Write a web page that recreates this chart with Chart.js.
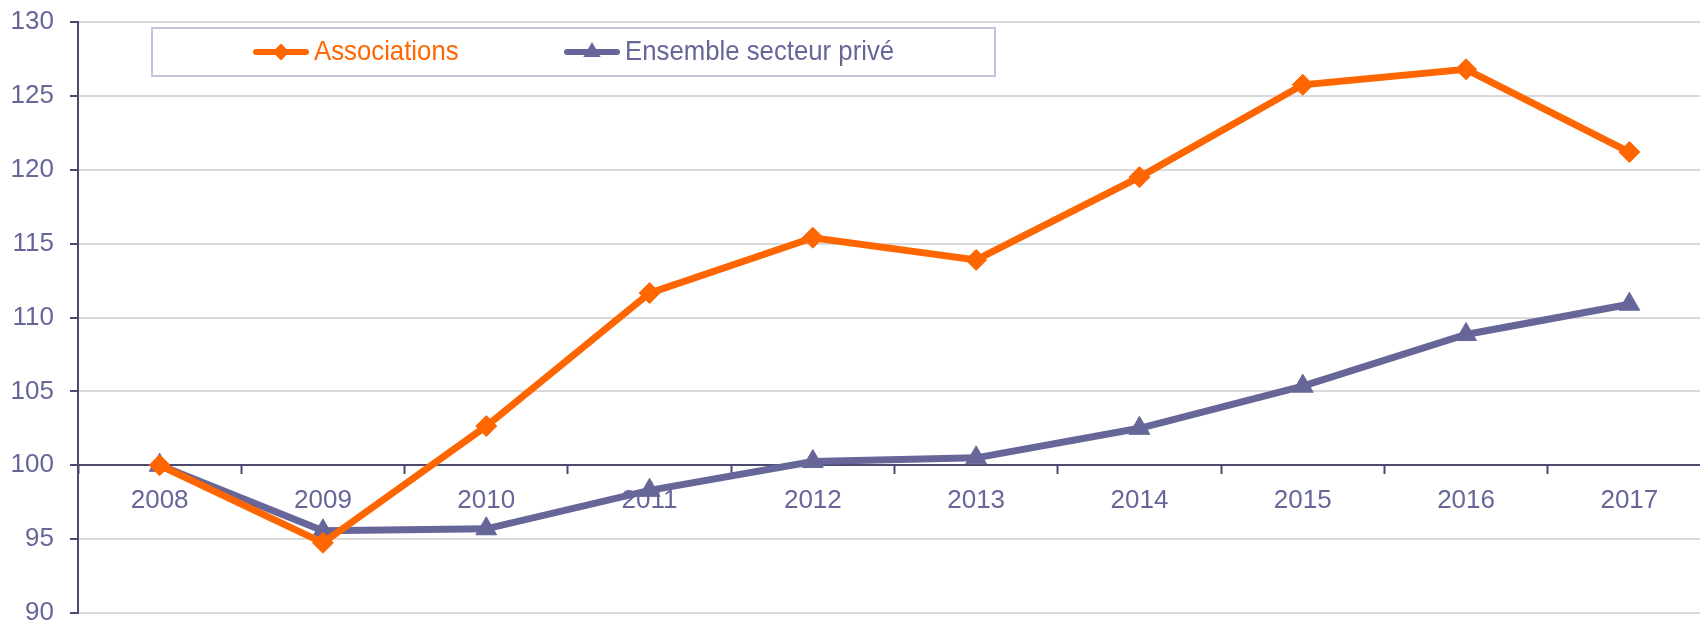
<!DOCTYPE html>
<html>
<head>
<meta charset="utf-8">
<script src="https://cdn.jsdelivr.net/npm/chart.js@4/dist/chart.umd.min.js"></script>
<style>
  html, body { margin: 0; padding: 0; background: #fff; overflow: hidden; }
  #chart_salaires { display: block; max-width: none !important; }
</style>
</head>
<body>
<canvas id="chart_salaires" width="1711" height="624"></canvas>
<script>
var years = ['2008', '2009', '2010', '2011', '2012', '2013', '2014', '2015', '2016', '2017'];
var associations = [100, 94.75, 102.65, 111.65, 115.4, 113.9, 119.5, 125.75, 126.8, 121.2];
var ensemblePrive = [100, 95.56, 95.7, 98.3, 100.25, 100.5, 102.5, 105.35, 108.85, 110.9];
var yMin = 90, yMax = 130, yStep = 5;

var ORANGE = '#ff6600';
var PURPLE = '#666699';
var AXIS = '#4a4a6e';
var FONT = '"Liberation Sans", Arial, sans-serif';

var chart_salaires = new Chart(document.getElementById('chart_salaires'), {
    type: 'line',
    data: {
        labels: years,
        datasets: [
            {
                label: 'Associations',
                data: associations,
                borderColor: ORANGE,
                backgroundColor: ORANGE,
                borderWidth: 7,
                pointStyle: 'rectRot',
                pointRadius: 10.5,
                pointBorderWidth: 1,
                pointBackgroundColor: ORANGE,
                pointBorderColor: ORANGE,
                legendMarkerRadius: 8.5
            },
            {
                label: 'Ensemble secteur privé',
                data: ensemblePrive,
                borderColor: PURPLE,
                backgroundColor: PURPLE,
                borderWidth: 7,
                pointStyle: 'triangle',
                pointRadius: 12,
                pointBorderWidth: 1,
                pointBackgroundColor: PURPLE,
                pointBorderColor: PURPLE,
                legendMarkerRadius: 10
            }
        ]
    },
    options: {
        animation: false,
        responsive: false,
        layout: {
            autoPadding: false,
            padding: { left: 0, right: 0, top: 22, bottom: 11 }
        },
        plugins: {
            legend: { display: false },
            tooltip: { enabled: false }
        },
        scales: {
            x: {
                type: 'category',
                position: { y: 100 },
                offset: true,
                grid: {
                    offset: true,
                    drawOnChartArea: false,
                    drawTicks: true,
                    tickLength: 8,
                    tickColor: AXIS,
                    tickWidth: 2
                },
                border: { color: AXIS, width: 2 },
                ticks: {
                    color: PURPLE,
                    font: { family: FONT, size: 26 },
                    padding: 12,
                    maxRotation: 0,
                    autoSkip: false
                }
            },
            y: {
                type: 'linear',
                position: 'left',
                min: yMin,
                max: yMax,
                grid: {
                    color: '#dadada',
                    lineWidth: 2,
                    drawTicks: true,
                    tickLength: 8,
                    tickColor: AXIS,
                    tickWidth: 2
                },
                border: { color: AXIS, width: 2 },
                ticks: {
                    stepSize: yStep,
                    color: PURPLE,
                    font: { family: FONT, size: 26 },
                    padding: 16
                },
                afterFit: function (scale) {
                    scale.width = 78;
                    scale.paddingTop = 0;
                    scale.paddingBottom = 0;
                }
            }
        }
    },
    plugins: [{
        id: 'boxedLegend',
        afterDraw: function (chart) {
            var ctx = chart.ctx;
            var sets = chart.data.datasets;
            var box = { left: 152, top: 28, right: 995, bottom: 76 };
            var itemX = [253, 564];
            var midY = 52;
            var squeeze = 0.92;   // legend text is a bit condensed in the original
            ctx.save();
            ctx.fillStyle = '#ffffff';
            ctx.fillRect(box.left, box.top, box.right - box.left, box.bottom - box.top);
            ctx.strokeStyle = '#c3c3da';
            ctx.lineWidth = 2;
            ctx.strokeRect(box.left, box.top, box.right - box.left, box.bottom - box.top);
            sets.forEach(function (ds, i) {
                var x = itemX[i];
                ctx.strokeStyle = ds.borderColor;
                ctx.lineWidth = 6;
                ctx.lineCap = 'round';
                ctx.beginPath();
                ctx.moveTo(x + 3, midY);
                ctx.lineTo(x + 53, midY);
                ctx.stroke();
                ctx.fillStyle = ds.borderColor;
                Chart.helpers.drawPoint(ctx, {
                    pointStyle: ds.pointStyle,
                    radius: ds.legendMarkerRadius,
                    borderWidth: 0,
                    rotation: 0
                }, x + 28, midY);

                ctx.save();
                ctx.translate(x + 61, midY);
                ctx.scale(squeeze, 1);
                ctx.font = '28px ' + FONT;
                ctx.textBaseline = 'middle';
                ctx.textAlign = 'left';
                ctx.fillStyle = ds.borderColor;
                ctx.fillText(ds.label, 0, 0);
                ctx.restore();
            });
            ctx.restore();
        }
    }]
});
</script>
</body>
</html>
